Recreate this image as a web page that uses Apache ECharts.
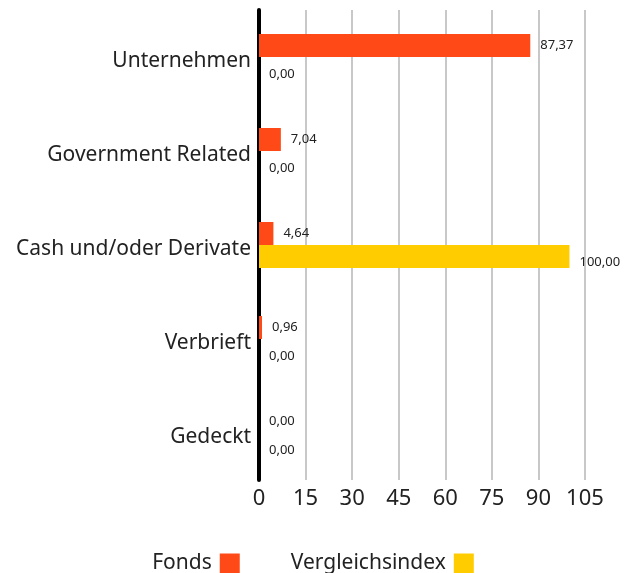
<!DOCTYPE html>
<html>
<head>
<meta charset="utf-8">
<script src="https://cdn.jsdelivr.net/npm/echarts@6/dist/echarts.min.js"></script>
<style>
  html, body { margin: 0; padding: 0; background: #fff; }
  #chart { width: 626px; height: 573px; }
</style>
</head>
<body>
<div id="chart"></div>
<script>
const categories = ['Unternehmen', 'Government Related', 'Cash und/oder Derivate', 'Verbrieft', 'Gedeckt']
const fondsValues = [87.37, 7.04, 4.64, 0.96, 0.00]
const indexValues = [0.00, 0.00, 100.00, 0.00, 0.00]
const xTicks = [0, 15, 30, 45, 60, 75, 90, 105]

const fontFamily = '"Noto Sans", sans-serif'
const fmt = (p) => p.value.toFixed(2).replace('.', ',')

const chart = echarts.init(document.getElementById('chart'))
chart.setOption({
  animation: false,
  textStyle: { fontFamily },
  grid: { left: 259, right: 41, top: 10, bottom: 93 },
  legend: {
    top: 548,
    left: 'center',
    align: 'right',
    itemWidth: 20,
    itemHeight: 20,
    itemGap: 51,
    icon: 'rect',
    textStyle: { fontSize: 21, color: '#222', fontFamily, padding: [0, 3, 0, 0] },
    data: ['Fonds', 'Vergleichsindex']
  },
  xAxis: {
    type: 'value',
    min: xTicks[0],
    max: xTicks[xTicks.length - 1],
    interval: 15,
    axisLine: { show: false },
    axisTick: { show: false },
    axisLabel: { fontSize: 22, color: '#222', margin: 8, fontFamily },
    splitLine: { lineStyle: { color: '#c8c8c8', width: 2 } }
  },
  yAxis: {
    type: 'category',
    inverse: true,
    data: categories,
    axisLine: { lineStyle: { color: '#000', width: 4 } },
    axisTick: { show: false },
    axisLabel: {
      margin: 8,
      formatter: (v) => '{c|' + v + '}',
      rich: { c: { fontSize: 21, color: '#222', fontFamily, padding: [8, 0, 0, 0] } }
    }
  },
  series: [{
    name: 'Fonds',
    type: 'bar',
    data: fondsValues,
    barWidth: 23,
    barGap: '0%',
    itemStyle: { color: '#ff4a17' },
    label: { show: true, position: 'right', distance: 10, fontSize: 13, color: '#222', formatter: fmt }
  }, {
    name: 'Vergleichsindex',
    type: 'bar',
    data: indexValues,
    barWidth: 23,
    barGap: '0%',
    itemStyle: { color: '#ffcc00' },
    label: { show: true, position: 'right', distance: 10, offset: [0, 6], fontSize: 13, color: '#222', formatter: fmt }
  }]
})
</script>
</body>
</html>
